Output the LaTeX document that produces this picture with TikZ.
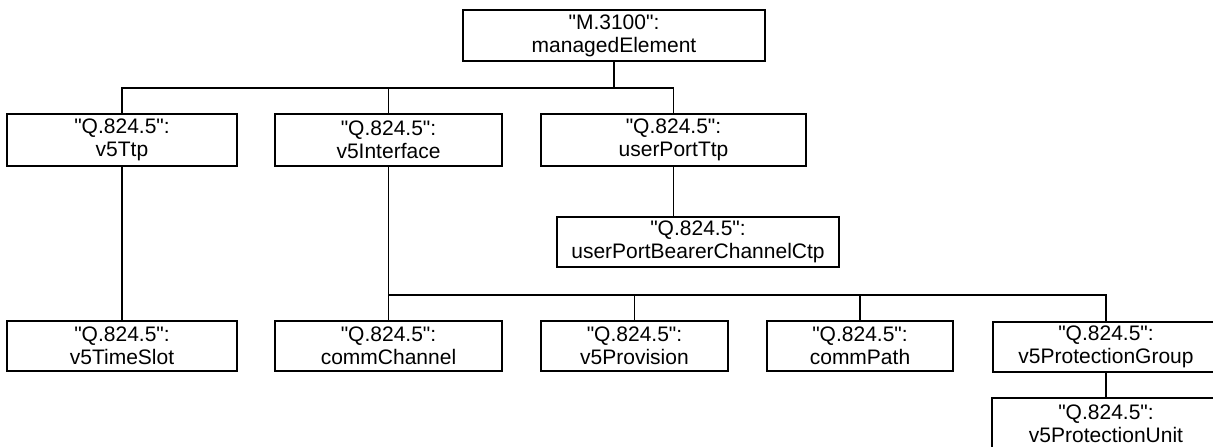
\documentclass[tikz,border=0pt]{standalone}
\usepackage{fontspec}
\newfontfamily\arialf{Liberation Sans}
\begin{document}
\begin{tikzpicture}[x=1pt,y=-1pt,
  obj/.style={draw,line width=1.8pt,inner sep=0pt,align=center,font=\arialf\fontsize{21}{23}\selectfont},
  conn/.style={line width=1.8pt}]
\useasboundingbox (0,0) rectangle (1213,447);
\clip (0,0) rectangle (1213,447);
\node[obj,minimum width=302,minimum height=51] (top) at (614,35.5) {"M.3100":\\managedElement};
\node[obj,minimum width=230,minimum height=52] (ttp) at (122,140) {"Q.824.5":\\v5Ttp};
\node[obj,minimum width=227,minimum height=52] (intf) at (388.5,140) {"Q.824.5":\\v5Interface};
\node[obj,minimum width=265,minimum height=52] (upt) at (673.5,140) {"Q.824.5":\\userPortTtp};
\node[obj,minimum width=282,minimum height=50] (ubc) at (698,242) {"Q.824.5":\\userPortBearerChannelCtp};
\node[obj,minimum width=230,minimum height=50] (slot) at (122,346) {"Q.824.5":\\v5TimeSlot};
\node[obj,minimum width=227,minimum height=50] (cch) at (388.5,346) {"Q.824.5":\\commChannel};
\node[obj,minimum width=187,minimum height=50] (prov) at (634.5,346) {"Q.824.5":\\v5Provision};
\node[obj,minimum width=186,minimum height=50] (cpath) at (860,346) {"Q.824.5":\\commPath};
\node[obj,minimum width=226,minimum height=50] (pg) at (1106,347) {"Q.824.5":\\v5ProtectionGroup};
\node[obj,minimum width=228,minimum height=52] (pu) at (1106,424) {"Q.824.5":\\v5ProtectionUnit};
\coordinate (bus1) at (0,88);
\coordinate (bus2) at (0,295);
\draw[conn] (ttp.north) |- (upt.north |- bus1) -- (upt.north);
\draw[conn] (top.south) -- (top.south |- bus1);
\draw[conn] (intf.north) -- (intf.north |- bus1);
\draw[conn] (ttp.south) -- (slot.north);
\draw[conn] (upt.south) -- (upt.south |- ubc.north);
\draw[conn] (intf.south) -- (cch.north);
\draw[conn] (intf.south |- bus2) -| (pg.north);
\draw[conn] (prov.north) -- (prov.north |- bus2);
\draw[conn] (cpath.north) -- (cpath.north |- bus2);
\draw[conn] (pg.south) -- (pu.north);
\end{tikzpicture}
\end{document}
